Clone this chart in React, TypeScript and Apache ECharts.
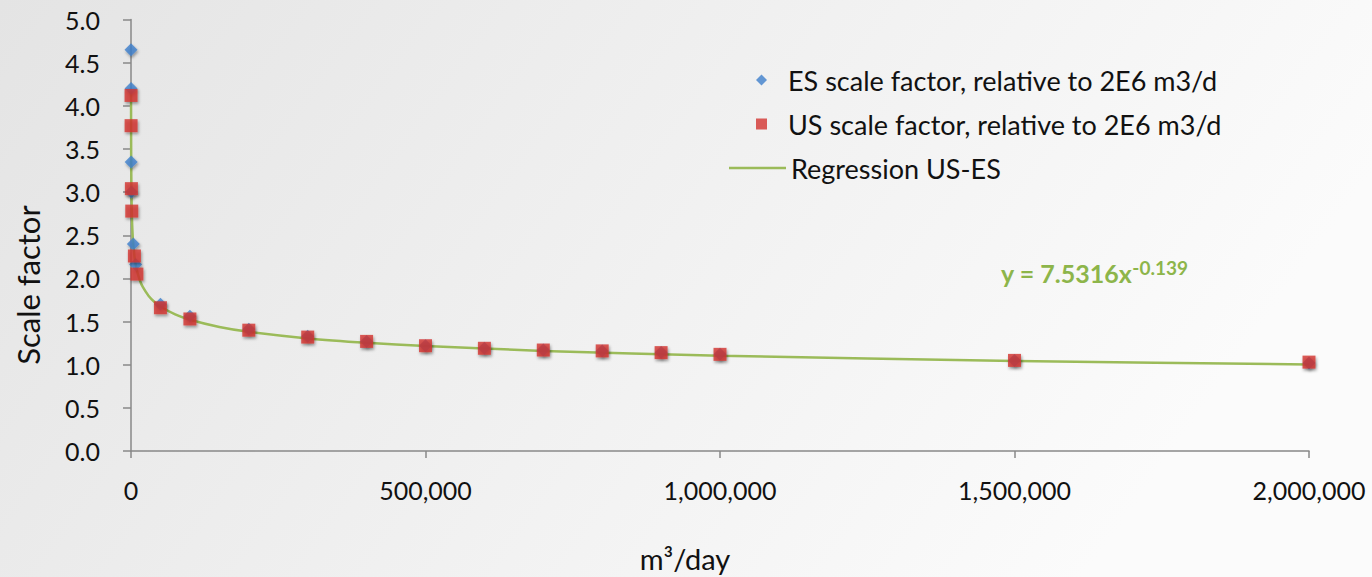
import React, { useEffect, useRef } from "react";
import * as echarts from "echarts";

// ---- Data ----
const esX = [30, 70, 350, 700, 4000, 8000, 50000, 100000, 200000, 300000, 400000, 500000, 600000, 700000, 800000, 900000, 1000000, 1500000, 2000000];
const esY = [4.65, 4.2, 3.35, 3.0, 2.4, 2.16, 1.7, 1.56, 1.41, 1.33, 1.27, 1.22, 1.19, 1.17, 1.16, 1.14, 1.12, 1.05, 1.02];
const usX = [80, 150, 700, 1300, 5800, 10000, 50000, 100000, 200000, 300000, 400000, 500000, 600000, 700000, 800000, 900000, 1000000, 1500000, 2000000];
const usY = [4.12, 3.77, 3.04, 2.78, 2.26, 2.05, 1.66, 1.53, 1.4, 1.32, 1.27, 1.22, 1.19, 1.17, 1.16, 1.14, 1.12, 1.05, 1.03];
// Regression: y = a * x^b (shown on chart)
const TREND_COEF = 7.5316;
const TREND_EXP = -0.139;
const trendX = [70, 150, 300, 700, 1500, 3000, 6000, 10000, 15000, 20000, 30000, 40000, 50000, 75000, 100000, 150000, 200000, 300000, 400000, 500000, 700000, 1000000, 1500000, 2000000];

const seriesNames = [
  "ES scale factor, relative to 2E6 m3/d",
  "US scale factor, relative to 2E6 m3/d",
  "Regression US-ES",
];
const yTicks = { min: 0, max: 5, interval: 0.5 };
const xTicks = { min: 0, max: 2000000, interval: 500000 };

const FONT = "Lato";
const TEXT = "#111";
const GREEN = "#9bbb59";

export default function App() {
  const ref = useRef<HTMLDivElement>(null);
  useEffect(() => {
    document.body.style.margin = "0";
    if (!ref.current) return;
    const chart = echarts.init(ref.current, undefined, { renderer: "svg" });
    const es = esX.map((x, i) => [x, esY[i]]);
    const us = usX.map((x, i) => [x, usY[i]]);
    const trend = trendX.map((x) => [x, TREND_COEF * Math.pow(x, TREND_EXP)]);
    const shadow = { shadowBlur: 3, shadowColor: "rgba(0,0,0,0.45)", shadowOffsetX: 1, shadowOffsetY: 2 };
    const legendText = { fontFamily: FONT, fontSize: 27, color: TEXT, lineHeight: 32 };
    chart.setOption({
      animation: false,
      backgroundColor: new echarts.graphic.LinearGradient(0, 0, 1, 0.3, [
        { offset: 0, color: "#e4e4e4" },
        { offset: 1, color: "#fbfbfb" },
      ]),
      grid: { left: 131, right: 63, top: 19.5, bottom: 126, containLabel: false },
      legend: [
        {
          orient: "vertical",
          left: 751,
          top: 59,
          itemWidth: 11,
          itemHeight: 11,
          itemGap: 12,
          data: [
            { name: seriesNames[0], icon: "diamond" },
            { name: seriesNames[1], icon: "rect" },
          ],
          itemStyle: { shadowBlur: 0, shadowOffsetX: 0, shadowOffsetY: 0 },
          textStyle: { ...legendText, padding: [0, 0, 0, 16] },
        },
        {
          orient: "vertical",
          left: 724,
          top: 147,
          itemWidth: 57,
          itemHeight: 2.5,
          data: [{ name: seriesNames[2], icon: "rect" }],
          itemStyle: { color: GREEN },
          textStyle: { ...legendText, padding: [0, 0, 0, 0] },
        },
      ],
      xAxis: {
        type: "value",
        min: xTicks.min,
        max: xTicks.max,
        interval: xTicks.interval,
        splitLine: { show: false },
        axisLine: { show: true, lineStyle: { color: "#888", width: 1.5 } },
        axisTick: { show: true, length: 7, lineStyle: { color: "#888", width: 1.5 } },
        axisLabel: {
          margin: 26,
          fontFamily: FONT,
          fontSize: 25,
          color: TEXT,
          formatter: (v: number) => v.toLocaleString("en-US"),
        },
      },
      yAxis: {
        type: "value",
        min: yTicks.min,
        max: yTicks.max,
        interval: yTicks.interval,
        splitLine: { show: false },
        axisLine: { show: true, lineStyle: { color: "#888", width: 1.5 } },
        axisTick: { show: true, length: 8, lineStyle: { color: "#888", width: 1.5 } },
        axisLabel: {
          margin: 31,
          fontFamily: FONT,
          fontSize: 25,
          color: TEXT,
          formatter: (v: number) => v.toFixed(1),
        },
      },
      series: [
        {
          name: seriesNames[2],
          type: "line",
          data: trend,
          showSymbol: false,
          symbol: "none",
          smooth: 0.2,
          lineStyle: { color: GREEN, width: 2.5 },
          itemStyle: { color: GREEN },
          z: 1,
        },
        {
          name: seriesNames[0],
          type: "scatter",
          data: es,
          symbol: "diamond",
          symbolSize: 13,
          itemStyle: { color: "#3f7fcc", ...shadow },
          z: 2,
        },
        {
          name: seriesNames[1],
          type: "scatter",
          data: us,
          symbol: "rect",
          symbolSize: 13,
          itemStyle: { color: "#d33431", ...shadow },
          z: 3,
        },
      ],
      graphic: [
        {
          type: "text",
          left: 1001,
          top: 258,
          style: {
            text: `{a|y = ${TREND_COEF}x}{b|${TREND_EXP}}`,
            rich: {
              a: { fontFamily: FONT, fontSize: 25, fontWeight: "bold", fill: "#8db54a", lineHeight: 30 },
              b: { fontFamily: FONT, fontSize: 19, fontWeight: "bold", fill: "#8db54a", lineHeight: 18, verticalAlign: "top" },
            },
          },
        },
        {
          type: "text",
          x: 28,
          y: 285,
          rotation: Math.PI / 2,
          style: {
            text: "Scale factor",
            fontFamily: FONT,
            fontSize: 31,
            fill: TEXT,
            align: "center",
            verticalAlign: "middle",
          },
        },
        {
          type: "text",
          x: 685,
          y: 558,
          style: {
            text: "m³/day",
            fontFamily: FONT,
            fontSize: 29,
            fill: TEXT,
            align: "center",
            verticalAlign: "middle",
          },
        },
      ],
    });
    return () => chart.dispose();
  }, []);
  return <div ref={ref} style={{ width: 1372, height: 577 }} />;
}
